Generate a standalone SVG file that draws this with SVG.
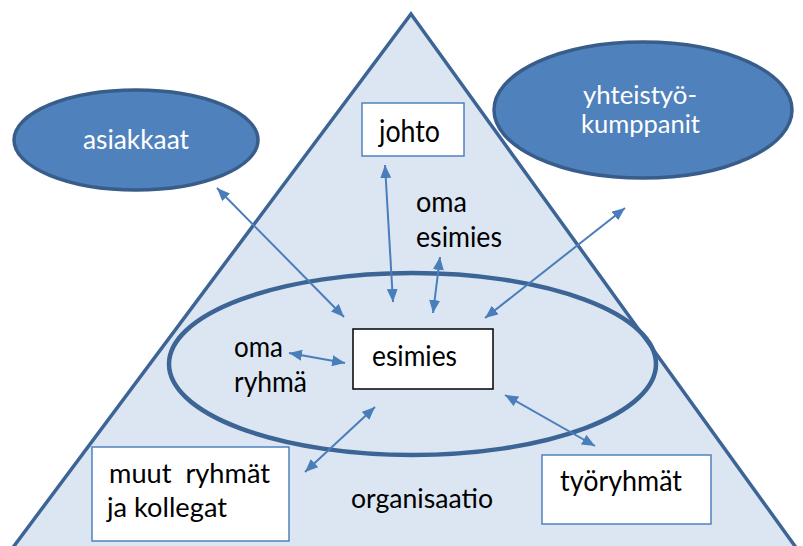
<svg xmlns="http://www.w3.org/2000/svg" width="803" height="546" viewBox="0 0 803 546">
<style>
.t{font-family:Lato,"Liberation Sans",sans-serif;fill:#000;white-space:pre}
.w{fill:#fff}
.box{fill:#fff;stroke:#4f81bd;stroke-width:1.5}
.oval{fill:#4f81bd;stroke:#385d8a;stroke-width:3.5}
.arr{stroke:#4a7ebb;stroke-width:2;fill:none;marker-start:url(#ah);marker-end:url(#ah)}
</style>
<defs>
<marker id="ah" viewBox="0 0 13 11" refX="13" refY="5.5" markerWidth="13" markerHeight="11" markerUnits="userSpaceOnUse" orient="auto-start-reverse">
<path d="M0,0 L13,5.5 L0,11 Z" fill="#4a7ebb"/>
</marker>
</defs>
<rect width="803" height="546" fill="#fff"/>
<g id="organisaatio">
<path d="M411,14 L805,560 L3.6,560 Z" fill="#dce6f2" stroke="#3c6595" stroke-width="3.5" stroke-linejoin="miter"/>
<text class="t" x="351" y="508" font-size="27" textLength="142" lengthAdjust="spacingAndGlyphs">organisaatio</text>
</g>
<g id="oma-ryhma">
<ellipse cx="412.5" cy="364" rx="243.5" ry="91" fill="none" stroke="#3c6595" stroke-width="4.5"/>
<text class="t" x="234" y="357" font-size="28.5" textLength="49" lengthAdjust="spacingAndGlyphs">oma</text>
<text class="t" x="234" y="392" font-size="28.5" textLength="73" lengthAdjust="spacingAndGlyphs">ryhmä</text>
</g>
<g id="asiakkaat">
<ellipse class="oval" cx="136" cy="140" rx="122" ry="50"/>
<text class="t w" x="83" y="149" font-size="26" textLength="106" lengthAdjust="spacingAndGlyphs">asiakkaat</text>
</g>
<g id="yhteistyokumppanit">
<ellipse class="oval" cx="643" cy="110" rx="149" ry="68"/>
<text class="t w" x="583" y="104" font-size="25.5" textLength="114" lengthAdjust="spacingAndGlyphs">yhteistyö-</text>
<text class="t w" x="581" y="133" font-size="25.5" textLength="119" lengthAdjust="spacingAndGlyphs">kumppanit</text>
</g>
<g id="johto">
<rect class="box" x="362" y="103" width="102" height="53"/>
<text class="t" x="379" y="142" font-size="30" textLength="61" lengthAdjust="spacingAndGlyphs">johto</text>
</g>
<g id="oma-esimies">
<text class="t" x="416" y="212" font-size="29" textLength="51" lengthAdjust="spacingAndGlyphs">oma</text>
<text class="t" x="416" y="247" font-size="29" textLength="86" lengthAdjust="spacingAndGlyphs">esimies</text>
</g>
<g id="esimies">
<rect x="353" y="329" width="140" height="60" fill="#fff" stroke="#000" stroke-width="1.5"/>
<text class="t" x="372" y="366" font-size="29" textLength="85" lengthAdjust="spacingAndGlyphs">esimies</text>
</g>
<g id="muut-ryhmat">
<rect class="box" x="92" y="447" width="197" height="94"/>
<text class="t" x="109" y="483" font-size="27.5" textLength="161" lengthAdjust="spacingAndGlyphs">muut  ryhmät</text>
<text class="t" x="107" y="517" font-size="27.5" textLength="120" lengthAdjust="spacingAndGlyphs">ja kollegat</text>
</g>
<g id="tyoryhmat">
<rect class="box" x="542" y="455" width="169" height="69"/>
<text class="t" x="560" y="491" font-size="28" textLength="122" lengthAdjust="spacingAndGlyphs">työryhmät</text>
</g>
<g id="connectors">
<line class="arr" x1="217" y1="188" x2="344" y2="317"/>
<line class="arr" x1="385" y1="165" x2="393" y2="302"/>
<line class="arr" x1="440" y1="257" x2="433" y2="313"/>
<line class="arr" x1="625" y1="208" x2="485" y2="318"/>
<line class="arr" x1="289" y1="353" x2="345" y2="363"/>
<line class="arr" x1="375" y1="407" x2="305" y2="472"/>
<line class="arr" x1="505" y1="395" x2="595" y2="446"/>
</g>
</svg>
